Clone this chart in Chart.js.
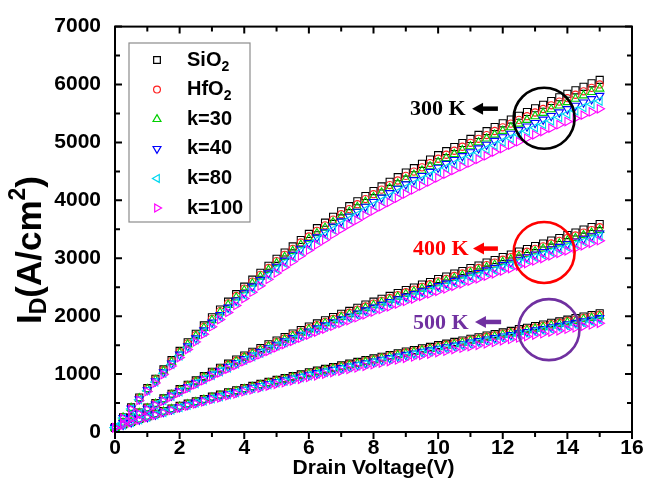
<!DOCTYPE html>
<html><head><meta charset="utf-8">
<script src="https://cdn.jsdelivr.net/npm/chart.js@4.4.0/dist/chart.umd.min.js"></script>
<style>html,body{margin:0;padding:0;background:#fff}#wrap{width:661px;height:495px;position:relative}</style>
</head><body><div id="wrap"><canvas id="c"></canvas></div>
<script>
// Drain voltage (V)
const V = [0,0.25,0.5,0.75,1,1.25,1.5,1.75,2,2.25,2.5,2.75,3,3.25,3.5,3.75,4,4.25,4.5,4.75,5,5.25,5.5,5.75,6,6.25,6.5,6.75,7,7.25,7.5,7.75,8,8.25,8.5,8.75,9,9.25,9.5,9.75,10,10.25,10.5,10.75,11,11.25,11.5,11.75,12,12.25,12.5,12.75,13,13.25,13.5,13.75,14,14.25,14.5,14.75,15];

// 300 K
const SIO2_300 = [80,255,425,595,760,920,1080,1240,1400,1550,1695,1840,1980,2115,2250,2380,2510,2630,2750,2870,2990,3100,3205,3315,3420,3520,3615,3715,3810,3900,3985,4075,4160,4240,4320,4400,4480,4555,4630,4705,4780,4850,4920,4990,5060,5130,5195,5265,5330,5395,5460,5525,5590,5650,5715,5780,5840,5900,5960,6020,6080];
const HFO2_300 = [79,252,419,587,750,908,1066,1224,1382,1530,1673,1816,1954,2088,2221,2349,2477,2596,2714,2833,2951,3060,3163,3272,3376,3474,3568,3667,3760,3849,3933,4022,4106,4185,4264,4343,4422,4496,4570,4644,4718,4787,4856,4925,4994,5063,5127,5197,5261,5325,5389,5453,5517,5577,5641,5705,5764,5823,5883,5942,6001];
const K30_300 = [78,249,414,580,741,897,1053,1209,1365,1511,1653,1794,1930,2062,2194,2320,2447,2564,2681,2798,2915,3022,3125,3232,3334,3432,3525,3622,3715,3802,3885,3973,4056,4134,4212,4290,4368,4441,4514,4587,4660,4729,4797,4865,4933,5002,5065,5133,5197,5260,5323,5387,5450,5509,5572,5635,5694,5752,5811,5869,5928];
const K40_300 = [76,244,406,568,726,879,1031,1184,1337,1480,1619,1757,1891,2020,2149,2273,2397,2512,2626,2741,2855,2960,3061,3166,3266,3362,3452,3548,3639,3724,3806,3892,3973,4049,4126,4202,4278,4350,4422,4493,4565,4632,4699,4765,4832,4899,4961,5028,5090,5152,5214,5276,5338,5396,5458,5520,5577,5634,5692,5749,5806];
const K80_300 = [75,240,399,559,714,865,1015,1166,1316,1457,1593,1730,1861,1988,2115,2237,2359,2472,2585,2698,2811,2914,3013,3116,3215,3309,3398,3492,3581,3666,3746,3830,3910,3986,4061,4136,4211,4282,4352,4423,4493,4559,4625,4691,4756,4822,4883,4949,5010,5071,5132,5193,5255,5311,5372,5433,5490,5546,5602,5659,5715];
const K100_300 = [73,234,390,546,698,845,991,1138,1285,1423,1556,1689,1818,1942,2065,2185,2304,2414,2524,2635,2745,2846,2942,3043,3140,3231,3319,3410,3498,3580,3658,3741,3819,3892,3966,4039,4113,4181,4250,4319,4388,4452,4517,4581,4645,4709,4769,4833,4893,4953,5012,5072,5132,5187,5246,5306,5361,5416,5471,5526,5581];

// 400 K
const SIO2_400 = [80,165,250,335,420,500,580,660,740,815,890,965,1040,1110,1180,1250,1320,1385,1450,1515,1580,1640,1700,1760,1820,1875,1930,1985,2040,2090,2145,2200,2250,2300,2350,2400,2450,2495,2545,2590,2640,2685,2735,2780,2830,2875,2925,2970,3020,3065,3115,3160,3210,3255,3305,3350,3400,3445,3495,3540,3590];
const HFO2_400 = [79,163,246,330,414,492,571,650,729,803,877,951,1024,1093,1162,1231,1300,1364,1428,1492,1556,1615,1674,1734,1793,1847,1901,1955,2009,2059,2113,2167,2216,2265,2315,2364,2413,2458,2507,2551,2600,2645,2694,2738,2788,2832,2881,2925,2975,3019,3068,3113,3162,3206,3255,3300,3349,3393,3443,3487,3536];
const K30_400 = [78,160,243,326,408,486,564,642,719,792,865,938,1011,1079,1147,1215,1283,1346,1409,1473,1536,1594,1652,1711,1769,1822,1876,1929,1983,2031,2085,2138,2187,2236,2284,2333,2381,2425,2474,2517,2566,2610,2658,2702,2751,2794,2843,2887,2935,2979,3028,3072,3120,3164,3212,3256,3305,3349,3397,3441,3489];
const K40_400 = [76,158,239,320,401,477,554,630,707,778,850,922,993,1060,1127,1194,1261,1323,1385,1447,1509,1566,1623,1681,1738,1791,1843,1896,1948,1996,2048,2101,2149,2196,2244,2292,2340,2383,2430,2473,2521,2564,2612,2655,2703,2746,2793,2836,2884,2927,2975,3018,3066,3109,3156,3199,3247,3290,3338,3381,3428];
const K80_400 = [75,155,235,315,395,470,545,620,696,766,837,907,978,1043,1109,1175,1241,1302,1363,1424,1485,1542,1598,1654,1711,1762,1814,1866,1918,1965,2016,2068,2115,2162,2209,2256,2303,2345,2392,2435,2482,2524,2571,2613,2660,2702,2749,2792,2839,2881,2928,2970,3017,3060,3107,3149,3196,3238,3285,3328,3375];
const K100_400 = [74,152,230,308,386,460,534,607,681,750,819,888,957,1021,1086,1150,1214,1274,1334,1394,1454,1509,1564,1619,1674,1725,1776,1826,1877,1923,1973,2024,2070,2116,2162,2208,2254,2295,2341,2383,2429,2470,2516,2558,2604,2645,2691,2732,2778,2820,2866,2907,2953,2995,3041,3082,3128,3169,3215,3257,3303];

// 500 K
const SIO2_500 = [80,130,175,225,270,315,360,405,450,490,530,570,610,645,685,720,760,795,830,865,900,930,965,995,1030,1060,1090,1120,1150,1180,1210,1240,1270,1300,1330,1360,1390,1415,1445,1470,1500,1525,1555,1580,1610,1635,1665,1690,1720,1745,1775,1800,1830,1855,1885,1910,1940,1965,1995,2020,2050];
const HFO2_500 = [79,128,173,222,267,311,356,400,445,484,524,563,603,637,677,711,751,785,820,855,889,919,953,983,1018,1047,1077,1107,1136,1166,1195,1225,1255,1284,1314,1344,1373,1398,1428,1452,1482,1507,1536,1561,1591,1615,1645,1670,1699,1724,1754,1778,1808,1833,1862,1887,1917,1941,1971,1996,2025];
const K30_500 = [78,127,171,219,263,307,351,395,439,478,517,556,595,629,668,702,741,775,809,843,878,907,941,970,1004,1033,1063,1092,1121,1150,1180,1209,1238,1267,1297,1326,1355,1380,1409,1433,1462,1487,1516,1540,1570,1594,1623,1648,1677,1701,1731,1755,1784,1809,1838,1862,1891,1916,1945,1969,1999];
const K40_500 = [77,125,168,216,259,302,346,389,432,470,509,547,586,619,658,691,730,763,797,830,864,893,926,955,989,1018,1046,1075,1104,1133,1162,1190,1219,1248,1277,1306,1334,1358,1387,1411,1440,1464,1493,1517,1546,1570,1598,1622,1651,1675,1704,1728,1757,1781,1810,1834,1862,1886,1915,1939,1968];
const K80_500 = [76,123,165,213,255,298,340,383,425,463,501,539,576,610,647,680,718,751,784,817,850,879,912,940,973,1002,1030,1058,1087,1115,1143,1172,1200,1228,1257,1285,1314,1337,1366,1389,1417,1441,1469,1493,1521,1545,1573,1597,1625,1649,1677,1701,1729,1753,1781,1805,1833,1857,1885,1909,1937];
const K100_500 = [73,119,160,206,247,288,329,371,412,448,485,522,558,590,627,659,695,727,759,791,823,851,883,910,942,970,997,1025,1052,1080,1107,1135,1162,1189,1217,1244,1272,1295,1322,1345,1372,1395,1423,1446,1473,1496,1523,1546,1574,1597,1624,1647,1674,1697,1725,1748,1775,1798,1825,1848,1876];

const SERIES_NAMES = ['SiO2','HfO2','k=30','k=40','k=80','k=100'];
const SERIES_300 = [SIO2_300,HFO2_300,K30_300,K40_300,K80_300,K100_300];
const SERIES_400 = [SIO2_400,HFO2_400,K30_400,K40_400,K80_400,K100_400];
const SERIES_500 = [SIO2_500,HFO2_500,K30_500,K40_500,K80_500,K100_500];

const X_TICKS = [0,2,4,6,8,10,12,14,16];
const X_MINOR = [1,3,5,7,9,11,13,15];
const Y_TICKS = [0,1000,2000,3000,4000,5000,6000,7000];
const Y_MINOR = [500,1500,2500,3500,4500,5500,6500];

// annotations (data units)
const ANNOT_LABELS = ['300 K','400 K','500 K'];
const ANNOT_COLORS = ['#000000','#ff0000','#7030a0'];
const ANNOT_TEXT_X = [9.13,9.22,9.22];
const ANNOT_Y = [5583,3167,1900];
const ARROW_X = [[11.05,11.85],[11.08,11.85],[11.14,11.95]];
const CIRCLES = [[13.28,5417],[13.28,3100],[13.43,1767]];

const STYLES = [
  {color:'#000000', ps:'rect', r:5.0, rot:0},
  {color:'#ff2020', ps:'circle', r:3.6, rot:0},
  {color:'#00d000', ps:'triangle', r:4.8, rot:0},
  {color:'#0000ff', ps:'triangle', r:4.8, rot:180},
  {color:'#00d8f0', ps:'triangle', r:4.8, rot:270},
  {color:'#ff00ff', ps:'triangle', r:4.8, rot:90}
];

const SANS = "'Liberation Sans', Arial, sans-serif";
const SERIF = "'Liberation Serif', 'Times New Roman', serif";

const datasets = [];
[SERIES_300, SERIES_400, SERIES_500].forEach((group, gi) => {
  group.forEach((arr, si) => {
    const st = STYLES[si];
    datasets.push({
      label: SERIES_NAMES[si] + ' ' + ANNOT_LABELS[gi],
      data: arr.map((y, i) => ({x: V[i], y})),
      showLine: false,
      pointStyle: st.ps,
      pointRadius: st.r,
      pointRotation: st.rot,
      pointBorderWidth: 1.1,
      borderColor: st.color,
      backgroundColor: 'rgba(0,0,0,0)',
      pointHoverRadius: st.r,
      order: 6 - si,
      clip: 8
    });
  });
});

function drawRich(ctx, parts, x, y, align) {
  let total = 0;
  parts.forEach(p => { ctx.font = 'bold ' + p[1] + 'px ' + SANS; total += ctx.measureText(p[0]).width; });
  let cx = align === 'center' ? x - total / 2 : x;
  parts.forEach(p => {
    ctx.font = 'bold ' + p[1] + 'px ' + SANS;
    ctx.fillText(p[0], cx, y + p[2]);
    cx += ctx.measureText(p[0]).width;
  });
}

const decor = {
  id: 'decor',
  afterDatasetsDraw(chart) {
    const {ctx, chartArea: a, scales: {x, y}} = chart;
    ctx.save();
    for (let i = 0; i < ANNOT_LABELS.length; i++) {
      const col = ANNOT_COLORS[i];
      const ty = y.getPixelForValue(ANNOT_Y[i]);
      ctx.fillStyle = col; ctx.strokeStyle = col;
      ctx.font = 'bold 22px ' + SERIF;
      ctx.textAlign = 'left'; ctx.textBaseline = 'middle';
      ctx.fillText(ANNOT_LABELS[i], x.getPixelForValue(ANNOT_TEXT_X[i]), ty + 1);
      const x1 = x.getPixelForValue(ARROW_X[i][0]);
      const x2 = x.getPixelForValue(ARROW_X[i][1]);
      ctx.beginPath();
      ctx.moveTo(x1, ty); ctx.lineTo(x1 + 11, ty - 6); ctx.lineTo(x1 + 11, ty + 6); ctx.closePath(); ctx.fill();
      ctx.lineWidth = 4.5; ctx.lineCap = 'butt';
      ctx.beginPath(); ctx.moveTo(x1 + 9, ty); ctx.lineTo(x2, ty); ctx.stroke();
      ctx.lineWidth = 2.6;
      ctx.beginPath();
      ctx.arc(x.getPixelForValue(CIRCLES[i][0]), y.getPixelForValue(CIRCLES[i][1]), 30.5, 0, Math.PI * 2);
      ctx.stroke();
    }
    const lx = 129, ly = 43, lw = 121, lh = 179;
    ctx.fillStyle = '#fff';
    ctx.fillRect(lx, ly, lw, lh);
    ctx.strokeStyle = '#8c8c8c'; ctx.lineWidth = 1.2;
    ctx.strokeRect(lx, ly, lw, lh);
    for (let i = 0; i < SERIES_NAMES.length; i++) {
      const st = STYLES[i];
      const cy = 60 + i * 29.6;
      ctx.strokeStyle = st.color; ctx.fillStyle = 'rgba(0,0,0,0)'; ctx.lineWidth = 1.2;
      Chart.helpers.drawPoint(ctx, {pointStyle: st.ps, rotation: st.rot, radius: st.r * 0.95, borderWidth: 1.2}, 157, cy);
      ctx.fillStyle = '#000'; ctx.textAlign = 'left'; ctx.textBaseline = 'middle';
      const nm = SERIES_NAMES[i];
      if (nm.endsWith('O2')) {
        drawRich(ctx, [[nm.slice(0, -1), 20, 0], ['2', 14, 7]], 187, cy, 'left');
      } else {
        drawRich(ctx, [[nm, 20, 0]], 187, cy, 'left');
      }
    }
    ctx.restore();
  },
  afterDraw(chart) {
    const {ctx, chartArea: a, scales: {x, y}} = chart;
    ctx.save();
    ctx.strokeStyle = '#000'; ctx.lineWidth = 2;
    ctx.strokeRect(a.left, a.top, a.right - a.left, a.bottom - a.top);
    ctx.beginPath();
    const xt = X_TICKS.map(v => [v, 7]).concat(X_MINOR.map(v => [v, 5]));
    xt.forEach(([v, L]) => {
      const px = x.getPixelForValue(v);
      ctx.moveTo(px, a.bottom); ctx.lineTo(px, a.bottom + L);
      ctx.moveTo(px, a.top); ctx.lineTo(px, a.top + L);
    });
    const yt = Y_TICKS.map(v => [v, 7]).concat(Y_MINOR.map(v => [v, 5]));
    yt.forEach(([v, L]) => {
      const py = y.getPixelForValue(v);
      ctx.moveTo(a.left, py); ctx.lineTo(a.left + L, py);
      ctx.moveTo(a.right, py); ctx.lineTo(a.right - L, py);
    });
    ctx.stroke();
    ctx.fillStyle = '#000'; ctx.textBaseline = 'middle'; ctx.textAlign = 'left';
    drawRich(ctx, [['Drain Voltage(V)', 21, 0]], (a.left + a.right) / 2, 468, 'center');
    ctx.translate(31, 250);
    ctx.rotate(-Math.PI / 2);
    drawRich(ctx, [['I', 35, 0], ['D', 23, 9], ['(A/cm', 35, 0], ['2', 23, -12], [')', 35, 0]], 0, 0, 'center');
    ctx.restore();
  }
};

new Chart(document.getElementById('c'), {
  type: 'scatter',
  data: {datasets},
  options: {
    responsive: true,
    maintainAspectRatio: false,
    animation: false,
    devicePixelRatio: 1,
    layout: {padding: {top: 12, right: 29, left: 0, bottom: 0}},
    plugins: {legend: {display: false}, tooltip: {enabled: false}},
    events: [],
    scales: {
      x: {
        type: 'linear', min: 0, max: 16,
        grid: {display: false, drawTicks: false},
        border: {display: false},
        afterFit: s => { s.height = 63; },
        afterBuildTicks: s => { s.ticks = X_TICKS.map(v => ({value: v})); },
        ticks: {padding: 4, color: '#000', font: {family: SANS, weight: 'bold', size: 21}, maxRotation: 0, autoSkip: false, callback: v => String(v)}
      },
      y: {
        type: 'linear', min: 0, max: 7000,
        grid: {display: false, drawTicks: false},
        border: {display: false},
        afterFit: s => { s.width = 115; },
        afterBuildTicks: s => { s.ticks = Y_TICKS.map(v => ({value: v})); },
        ticks: {padding: 14, color: '#000', font: {family: SANS, weight: 'bold', size: 21}, autoSkip: false, callback: v => String(v)}
      }
    }
  },
  plugins: [decor]
});
</script>
</body></html>
